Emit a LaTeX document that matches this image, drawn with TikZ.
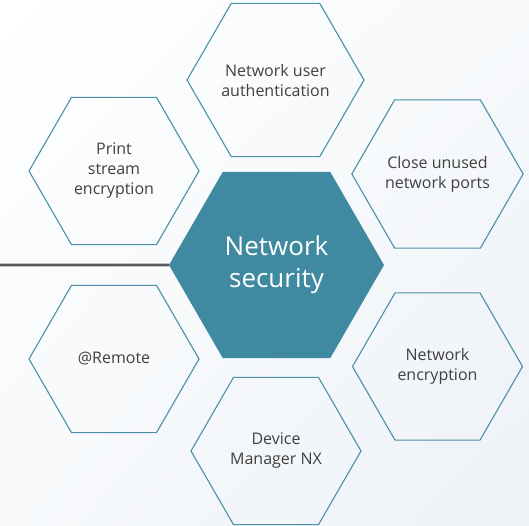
\documentclass[tikz,border=0pt]{standalone}
\usepackage{fontspec}
\setsansfont{Open Sans}
\usetikzlibrary{shapes.geometric,shadings,positioning}
\definecolor{hubteal}{HTML}{3F8AA0}
\definecolor{hexline}{HTML}{4A90A8}
\definecolor{txtgrey}{HTML}{404040}
\definecolor{linegrey}{HTML}{5A5A5A}
\definecolor{bgblue}{HTML}{EDF2F7}
\definecolor{bgmid}{HTML}{F7F9FB}
\tikzset{
  basic/.style = {regular polygon, regular polygon sides=6, inner sep=0pt,
                  outer sep=0pt, align=center, font=\sffamily},
  hub/.style   = {basic, minimum size=215pt, fill=hubteal, text=white,
                  font=\sffamily\fontsize{26}{32}\selectfont},
  leaf/.style  = {basic, minimum size=170pt, draw=hexline, line width=1.1pt,
                  text=txtgrey, font=\sffamily\fontsize{16}{20}\selectfont}
}

\begin{document}
\begin{tikzpicture}[x=1pt,y=-1pt]

% background, fixes the page size
\useasboundingbox (0,0) rectangle (529,525);
\shade[upper left=white, upper right=bgmid, lower left=bgmid,
       lower right=bgblue] (0,0) rectangle (529,525);

% the hub in the middle
\node[hub] (sec) at (276.5,265) {Network\\security};

% the six hexagons round it
\node[leaf] (c1) at (275.5,80)  {Network user\\authentication};
\node[leaf] (c2) at (437.5,174) {Close unused\\network ports};
\node[leaf] (c3) at (437.5,366.5) {Network\\encryption};
\node[leaf] (c4) at (276,451)   {Device\\Manager NX};
\node[leaf] (c5) at (114,359)   {@Remote};
\node[leaf] (c6) at (114,171)   {Print\\stream\\encryption};

% line coming in from the left edge
\coordinate (lft) at (0,265);
\draw[line width=2.7pt, linegrey] (lft) -- (sec.west);
\end{tikzpicture}
\end{document}
